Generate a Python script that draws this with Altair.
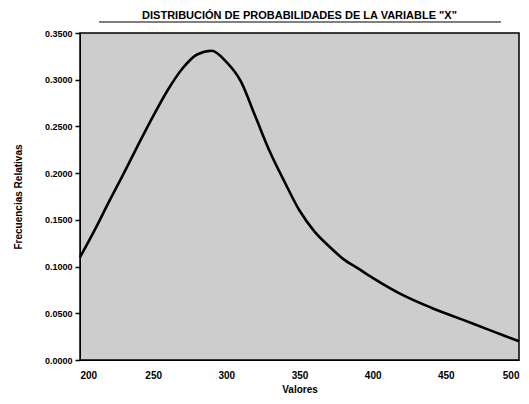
import altair as alt
import pandas as pd

valores = [200, 210, 220, 230, 240, 250, 260, 270, 280, 290, 300, 310, 320,
           330, 340, 350, 360, 370, 380, 390, 400, 420, 440, 460, 480, 500]
frecuencias = [0.110, 0.139, 0.170, 0.200, 0.231, 0.261, 0.289, 0.312, 0.327,
               0.331, 0.319, 0.298, 0.260, 0.222, 0.190, 0.160, 0.138, 0.122,
               0.108, 0.098, 0.088, 0.070, 0.056, 0.044, 0.032, 0.020]
y_ticks = [0.0, 0.05, 0.10, 0.15, 0.20, 0.25, 0.30, 0.35]
x_ticks = [200, 250, 300, 350, 400, 450, 500]
titulo = "DISTRIBUCIÓN DE PROBABILIDADES DE LA VARIABLE \"X\""

df = pd.DataFrame({"Valores": valores, "Frecuencias": frecuencias})

FONT = "Liberation Sans"
W, H = 439, 327

line = alt.Chart(df).mark_line(color="black", strokeWidth=2.6, interpolate="monotone").encode(
    x=alt.X("Valores:Q", scale=alt.Scale(domain=[200, 500], nice=False, zero=False),
            axis=alt.Axis(values=x_ticks, title="Valores", ticks=False, grid=False,
                          labelPadding=10, labelFontSize=10, labelFontWeight="bold",
                          titleFontSize=10, titleFontWeight="bold", titlePadding=4,
                          domainColor="black", labelColor="black", titleColor="black",
                          labelFont=FONT, titleFont=FONT)),
    y=alt.Y("Frecuencias:Q", scale=alt.Scale(domain=[0, 0.35], nice=False),
            axis=alt.Axis(values=y_ticks, format=".4f", title="Frecuencias Relativas",
                          grid=False, tickSize=5, tickColor="black", tickWidth=1.5,
                          labelPadding=3, labelFontSize=9, labelFontWeight="bold",
                          titleFontSize=10, titleFontWeight="bold",
                          titleX=-62, titleY=H / 2, titleAngle=-90, titleAlign="center",
                          titleBaseline="middle",
                          domainColor="black", labelColor="black", titleColor="black",
                          labelFont=FONT, titleFont=FONT)),
)

title_df = pd.DataFrame({"t": [titulo]})
title_text = alt.Chart(title_df).mark_text(
    font=FONT, fontSize=11, fontWeight="bold", color="black", align="center", baseline="alphabetic"
).encode(text="t:N", x=alt.value(W / 2), y=alt.value(-14))

underline = alt.Chart(title_df).mark_rule(color="black", strokeWidth=1.2).encode(
    x=alt.value(19), x2=alt.value(421), y=alt.value(-11)
)

chart = alt.layer(line, title_text, underline).properties(
    width=W, height=H,
    padding={"left": 72, "top": 25, "right": 2, "bottom": 36},
    autosize=alt.AutoSizeParams(type="none"),
    background="white",
).configure_view(
    fill="#cdcdcd", stroke="black", strokeWidth=1.5
)

chart.save("out.html", embed_options={"renderer": "svg", "actions": False})
